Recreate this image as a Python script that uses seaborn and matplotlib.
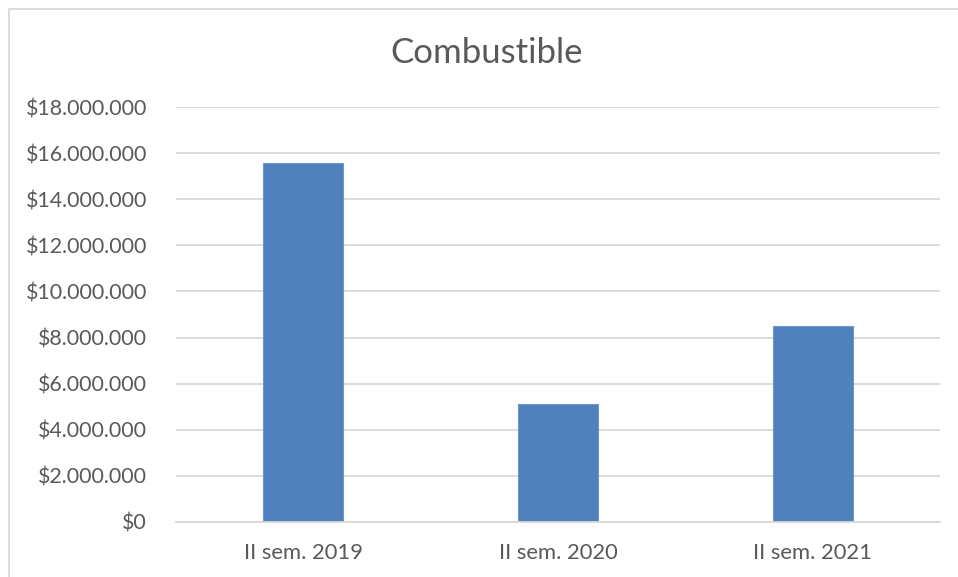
import matplotlib
matplotlib.use('Agg')
import matplotlib.pyplot as plt
import seaborn as sns
from matplotlib.ticker import FuncFormatter, MultipleLocator
from matplotlib.lines import Line2D


periodos = ['II sem. 2019', 'II sem. 2020', 'II sem. 2021']
combustible = [15570000, 5100000, 8490000]

azul = '#4F81BD'
gris_texto = '#595959'
gris_linea = '#D9D9D9'


def pesos(v, pos):
    return '$' + f'{int(v):,}'.replace(',', '.')


def main():
    sns.set_theme(style='white')
    plt.rcParams['font.family'] = ['Lato', 'DejaVu Sans']

    fig = plt.figure(figsize=(9.58, 5.77), dpi=100)
    ax = fig.add_axes([176 / 958, 1 - 522 / 577, (940 - 176) / 958, (522 - 107) / 577])

    sns.barplot(x=periodos, y=combustible, color=azul, width=0.314,
                saturation=1, edgecolor='#6E98CC', linewidth=0.8, ax=ax)

    ax.set_ylim(0, 18000000)
    ax.set_xlim(-0.5, 2.5)
    ax.yaxis.set_major_locator(MultipleLocator(2000000))
    ax.yaxis.set_major_formatter(FuncFormatter(pesos))
    ax.grid(axis='y', color=gris_linea, linewidth=1.3)
    ax.set_axisbelow(True)
    for lado in ['top', 'right', 'left']:
        ax.spines[lado].set_visible(False)
    ax.spines['bottom'].set_color(gris_linea)
    ax.spines['bottom'].set_linewidth(1.3)

    ax.tick_params(axis='y', length=0, pad=21, labelsize=15.4, labelcolor=gris_texto)
    ax.tick_params(axis='x', length=0, pad=15, labelsize=15.8, labelcolor=gris_texto)

    fig.text(487 / 958, 1 - 53 / 577, 'Combustible', ha='center', va='center',
             fontsize=25, color=gris_texto)

    # marco del grafico (solo borde superior e izquierdo visibles)
    fig.add_artist(Line2D([9 / 958, 1], [1 - 9 / 577, 1 - 9 / 577],
                          transform=fig.transFigure, color=gris_linea, linewidth=1.3))
    fig.add_artist(Line2D([9 / 958, 9 / 958], [0, 1 - 9 / 577],
                          transform=fig.transFigure, color=gris_linea, linewidth=1.3))

    fig.savefig('out.png', dpi=100, facecolor='white')


if __name__ == '__main__':
    main()
